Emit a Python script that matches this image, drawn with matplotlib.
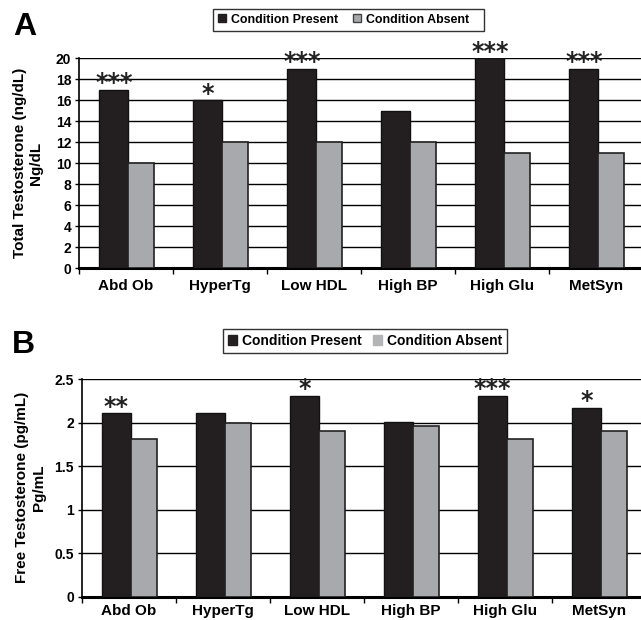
import numpy as np
import matplotlib
matplotlib.use("Agg")
import matplotlib.pyplot as plt
from matplotlib.patches import Patch

# --- data ---
categories = ["Abd Ob", "HyperTg", "Low HDL", "High BP", "High Glu", "MetSyn"]

total_present = [17, 16, 19, 15, 20, 19]
total_absent = [10, 12, 12, 12, 11, 11]
total_stars = ["***", "*", "***", "", "***", "***"]

free_present = [2.11, 2.11, 2.31, 2.01, 2.31, 2.17]
free_absent = [1.81, 2.00, 1.90, 1.96, 1.81, 1.90]
free_stars = ["**", "", "*", "", "***", "*"]

total_ticks = [0, 2, 4, 6, 8, 10, 12, 14, 16, 18, 20]
free_ticks = [0, 0.5, 1, 1.5, 2, 2.5]
free_tick_labels = ["0", "0.5", "1", "1.5", "2", "2.5"]

PRESENT = "#231f20"
ABSENT = "#a7a9ac"

plt.rcParams["font.family"] = ["Liberation Sans", "DejaVu Sans"]
plt.rcParams["font.weight"] = "bold"

W, H = 641, 620
fig = plt.figure(figsize=(W / 100, H / 100), dpi=100)


def draw_panel(rect, present, absent, stars, yticks, ylim, ylabel, xpad):
    ax = fig.add_axes(rect)
    x = np.arange(len(categories))
    ax.bar(x + 0.215, present, width=0.305, align="edge", color=PRESENT,
           edgecolor="#111111", linewidth=1.0, zorder=3)
    ax.bar(x + 0.52, absent, width=0.28, align="edge", color=ABSENT,
           edgecolor="#222222", linewidth=1.2, zorder=3)

    # significance stars above the "present" bars
    for xi, val, s in zip(x, present, stars):
        if s:
            ax.annotate(s, (xi + 0.37, val), xytext=(0, -4),
                        textcoords="offset points", ha="center", va="bottom",
                        fontsize=17, fontweight="bold", family="DejaVu Sans",
                        color="#222222", annotation_clip=False, zorder=4)

    ax.set_xlim(0, len(categories))
    ax.set_ylim(*ylim)
    ax.set_yticks(yticks)
    ax.yaxis.grid(True, color="black", linewidth=1.0)
    ax.set_axisbelow(True)

    ax.set_xticks(x + 0.5)
    ax.set_xticklabels(categories, fontsize=11, fontweight="bold")
    ax.set_xticks(np.arange(len(categories) + 1), minor=True)
    ax.tick_params(axis="x", which="major", length=0, pad=xpad)
    ax.tick_params(axis="x", which="minor", length=4, width=1, direction="out")
    ax.tick_params(axis="y", length=3, width=1, pad=2.5, labelsize=10)
    for lab in ax.get_yticklabels():
        lab.set_fontweight("bold")

    for side in ("top", "right"):
        ax.spines[side].set_visible(False)
    ax.spines["left"].set_linewidth(1.2)
    ax.spines["bottom"].set_linewidth(2.2)

    ax.set_ylabel(ylabel, fontsize=11, fontweight="bold", linespacing=1.2)
    ax.yaxis.set_label_coords(-0.064, 0.5)
    return ax


ax_a = draw_panel([79 / W, 1 - 268.3 / H, 564 / W, 210 / H],
                  total_present, total_absent, total_stars,
                  total_ticks, (0, 20),
                  "Total Testosterone (ng/dL)\nNg/dL", xpad=8)

ax_b = draw_panel([81.7 / W, 1 - 596.7 / H, 564 / W, 217.7 / H],
                  free_present, free_absent, free_stars,
                  free_ticks, (0, 2.5),
                  "Free Testosterone (pg/mL)\nPg/mL", xpad=5.5)
ax_b.set_yticklabels(free_tick_labels)
for lab in ax_b.get_yticklabels():
    lab.set_fontweight("bold")

# panel letters
fig.text(13 / W, 1 - 35 / H, "A", fontsize=23, fontweight="bold", va="baseline")
fig.text(12 / W, 1 - 353 / H, "B", fontsize=23, fontweight="bold", va="baseline")

# legends
handles_a = [Patch(facecolor=PRESENT, edgecolor=PRESENT, label="Condition Present"),
             Patch(facecolor=ABSENT, edgecolor="#444444",
                   label="Condition Absent   ")]
leg_a = fig.legend(handles=handles_a, loc="center",
                   bbox_to_anchor=(348.8 / W, 1 - 19.8 / H),
                   ncol=2, fontsize=8.9, frameon=True, fancybox=False,
                   edgecolor="black", handlelength=0.62, handleheight=0.62,
                   handletextpad=0.4, columnspacing=1.2, borderpad=0.42,
                   borderaxespad=0)

handles_b = [Patch(facecolor=PRESENT, edgecolor=PRESENT, label="Condition Present"),
             Patch(facecolor="#b3b4b6", edgecolor="#b3b4b6", label="Condition Absent")]
leg_b = fig.legend(handles=handles_b, loc="center",
                   bbox_to_anchor=(365 / W, 1 - 340.8 / H),
                   ncol=2, fontsize=10, frameon=True, fancybox=False,
                   edgecolor="black", handlelength=0.65, handleheight=0.65,
                   handletextpad=0.35, columnspacing=0.8, borderpad=0.35,
                   borderaxespad=0)

for leg in (leg_a, leg_b):
    leg.get_frame().set_linewidth(1.0)
    for t in leg.get_texts():
        t.set_fontweight("bold")

fig.savefig("out.png", dpi=100)
